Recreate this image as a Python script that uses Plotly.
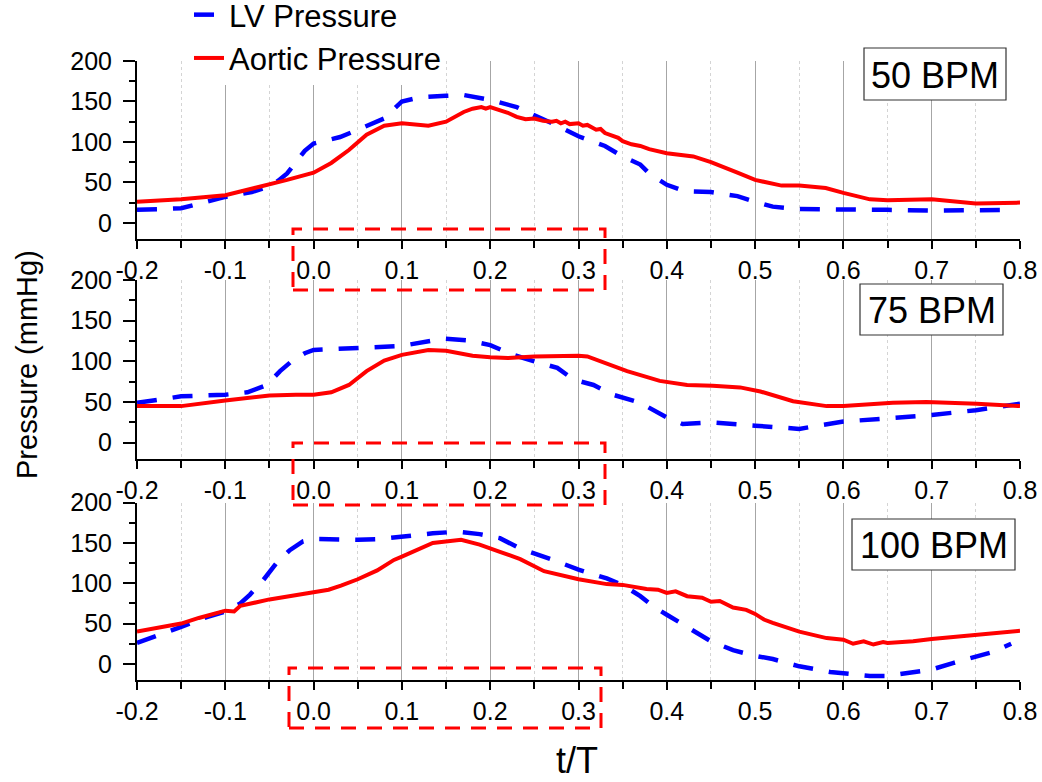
import plotly.graph_objects as go

# ---------------- data ----------------
# 50 BPM
t_lv50 = [-0.2, -0.15, -0.1, -0.07, -0.05, -0.04, -0.03, -0.02, -0.01, 0.0, 0.03, 0.05, 0.08, 0.1,
          0.12, 0.15, 0.17, 0.2, 0.23, 0.27, 0.3, 0.33, 0.35, 0.37, 0.38, 0.4, 0.42, 0.45, 0.48,
          0.5, 0.52, 0.55, 0.6, 0.65, 0.7, 0.75, 0.786]
lv50 = [16, 18, 32, 38, 45, 52, 61, 75, 89, 98, 106, 115, 129, 150,
        155, 157, 158, 152, 143, 123, 107, 95, 82, 72, 61, 47, 39, 38, 33,
        26, 20, 17, 17, 16, 15, 15, 16]
t_ao50 = [-0.2, -0.15, -0.1, -0.05, -0.03, 0.0, 0.02, 0.04, 0.06, 0.08, 0.1, 0.13, 0.15, 0.17,
          0.18, 0.19, 0.195, 0.2, 0.21, 0.22, 0.23, 0.24, 0.25, 0.26, 0.27, 0.275, 0.28, 0.285,
          0.29, 0.3, 0.305, 0.31, 0.32, 0.325, 0.33, 0.34, 0.345, 0.35, 0.36, 0.37, 0.38, 0.4,
          0.43, 0.45, 0.47, 0.48, 0.5, 0.52, 0.53, 0.55, 0.58, 0.6, 0.63, 0.65, 0.7, 0.75, 0.8]
ao50 = [26, 29, 34, 47, 53, 62, 74, 90, 109, 120, 123, 120, 125, 137,
        141, 143, 141, 143, 140, 136, 131, 128, 129, 126, 125, 126, 123, 125,
        122, 123, 120, 121, 115, 116, 111, 107, 105, 101, 97, 95, 91, 86,
        82, 75, 67, 62, 53, 49, 46, 46, 43, 37, 29, 28, 29, 24, 25]

# 75 BPM
t_lv75 = [-0.2, -0.15, -0.1, -0.075, -0.053, -0.038, -0.025, -0.01, 0.0, 0.026, 0.05, 0.1, 0.147,
          0.173, 0.2, 0.226, 0.25, 0.276, 0.29, 0.3, 0.317, 0.339, 0.37, 0.4, 0.418, 0.45, 0.5,
          0.52, 0.55, 0.577, 0.6, 0.65, 0.7, 0.75, 0.8]
lv75 = [49, 57, 59, 62, 71, 88, 100, 110, 114, 115, 117, 119, 128,
        126, 120, 108, 100, 92, 81, 76, 71, 59, 49, 31, 23, 25, 21,
        19, 17, 22, 26, 30, 34, 40, 48]
t_ao75 = [-0.2, -0.15, -0.1, -0.05, -0.02, 0.0, 0.02, 0.04, 0.06, 0.08, 0.1, 0.13, 0.15, 0.18,
          0.2, 0.22, 0.25, 0.28, 0.3, 0.31, 0.336, 0.355, 0.392, 0.423, 0.452, 0.483, 0.506,
          0.543, 0.581, 0.6, 0.656, 0.694, 0.751, 0.8]
ao75 = [45, 45, 52, 58, 59, 59, 62, 71, 88, 101, 108, 114, 113, 107,
        105, 104, 106, 107, 107, 106, 96, 88, 76, 71, 70, 68, 63,
        51, 45, 45, 49, 50, 48, 45]

# 100 BPM
t_lv100 = [-0.2, -0.174, -0.15, -0.121, -0.1, -0.083, -0.072, -0.057, -0.042, -0.027, -0.012, 0.0,
           0.022, 0.05, 0.075, 0.1, 0.135, 0.162, 0.188, 0.211, 0.234, 0.271, 0.3, 0.332, 0.35,
           0.37, 0.385, 0.4, 0.423, 0.45, 0.475, 0.5, 0.52, 0.55, 0.585, 0.6, 0.63, 0.65, 0.679,
           0.7, 0.724, 0.751, 0.77, 0.79]
lv100 = [26, 36, 46, 58, 65, 75, 86, 104, 125, 141, 152, 155,
         154, 154, 155, 158, 162, 164, 161, 156, 143, 129, 117, 106, 98,
         84, 71, 61, 46, 28, 17, 10, 6, -3, -10, -12, -15, -15, -11,
         -7, 1, 9, 15, 25]
t_ao100 = [-0.2, -0.174, -0.15, -0.13, -0.1, -0.09, -0.083, -0.05, -0.027, 0.0, 0.017, 0.031, 0.05,
           0.072, 0.091, 0.1, 0.113, 0.135, 0.167, 0.188, 0.211, 0.234, 0.261, 0.3, 0.332, 0.35,
           0.377, 0.39, 0.4, 0.41, 0.423, 0.44, 0.45, 0.46, 0.475, 0.49, 0.5, 0.51, 0.52, 0.55,
           0.581, 0.6, 0.611, 0.623, 0.634, 0.645, 0.65, 0.679, 0.7, 0.751, 0.8]
ao100 = [40, 45, 50, 57, 66, 65, 72, 80, 84, 88, 92, 97, 105,
         116, 129, 133, 139, 150, 154, 148, 139, 130, 115, 105, 99, 98,
         93, 92, 88, 90, 84, 82, 77, 78, 70, 67, 62, 55, 51, 40,
         32, 30, 25, 28, 24, 27, 26, 28, 31, 36, 41]

panel_labels = ["50 BPM", "75 BPM", "100 BPM"]
series_names = ["LV Pressure", "Aortic Pressure"]
x_tickvals = [-0.2, -0.1, 0.0, 0.1, 0.2, 0.3, 0.4, 0.5, 0.6, 0.7, 0.8]
x_ticktext = ["-0.2", "-0.1", "0.0", "0.1", "0.2", "0.3", "0.4", "0.5", "0.6", "0.7", "0.8"]
y_tickvals = [0, 50, 100, 150, 200]

# ---------------- layout helpers ----------------
W, H = 1042, 782
L, R, T, B = 137, 22, 61, 102
PW, PH = W - L - R, H - T - B


def px_x(p):
    return (p - L) / PW


def px_y(p):
    return (H - B - p) / PH


FONT = "Liberation Sans, Arial, sans-serif"
BLUE = "#0000ff"
RED = "#ff0000"

panels = [
    (t_lv50, lv50, t_ao50, ao50),
    (t_lv75, lv75, t_ao75, ao75),
    (t_lv100, lv100, t_ao100, ao100),
]
# panel pixel extents: (top of y-range, bottom of axis)
panel_px = [(61, 239), (280, 459), (502.7, 680)]

fig = go.Figure()
for i, (tl, lv, ta, ao) in enumerate(panels):
    sfx = "" if i == 0 else str(i + 1)
    fig.add_trace(go.Scatter(x=tl, y=lv, mode="lines", name=series_names[0],
                             line=dict(color=BLUE, width=4.5, dash="20px,16px"),
                             xaxis="x" + sfx, yaxis="y" + sfx, showlegend=(i == 0),
                             legendrank=1))
    fig.add_trace(go.Scatter(x=ta, y=ao, mode="lines", name=series_names[1],
                             line=dict(color=RED, width=4),
                             xaxis="x" + sfx, yaxis="y" + sfx, showlegend=(i == 0),
                             legendrank=2))

layout = dict(
    width=W, height=H,
    margin=dict(l=L, r=R, t=T, b=B, autoexpand=False),
    paper_bgcolor="white", plot_bgcolor="white",
    font=dict(family=FONT, color="black", size=25),
    showlegend=True,
    legend=dict(x=px_x(189), y=px_y(-12), xanchor="left", yanchor="top",
                font=dict(size=31, family=FONT), bgcolor="white",
                borderwidth=0, tracegroupgap=0),
)

for i in range(3):
    sfx = "" if i == 0 else str(i + 1)
    top_px, bot_px = panel_px[i]
    layout["xaxis" + sfx] = dict(
        domain=[0, 1], range=[-0.2, 0.8], anchor="y" + sfx,
        tickmode="array", tickvals=x_tickvals, ticktext=x_ticktext,
        ticks="outside", ticklen=8, tickwidth=2, tickcolor="black",
        showline=True, linecolor="black", linewidth=2,
        showgrid=True, gridcolor="#a6a6a6", gridwidth=1, zeroline=False,
        tickfont=dict(size=25, family=FONT),
        minor=dict(tickmode="linear", tick0=-0.2, dtick=0.05, ticks="outside", ticklen=7,
                   tickwidth=2, tickcolor="black", showgrid=True,
                   gridcolor="#d4d4d4", griddash="dot", gridwidth=1),
    )
    layout["yaxis" + sfx] = dict(
        domain=[px_y(bot_px), px_y(top_px)], range=[-20, 200], anchor="x" + sfx,
        tickmode="array", tickvals=y_tickvals,
        ticks="outside", ticklen=12, tickwidth=2, tickcolor="black",
        ticklabelstandoff=6,
        showline=True, linecolor="black", linewidth=2,
        showgrid=False, zeroline=False,
        tickfont=dict(size=25, family=FONT),
        minor=dict(tickmode="linear", tick0=0, dtick=25, ticks="outside", ticklen=6,
                   tickwidth=2, tickcolor="black", showgrid=False),
    )

fig.update_layout(**layout)

# BPM label boxes (pixel extents)
bpm_boxes = [(864, 48, 1006, 100), (860, 284, 1003, 335), (852, 519, 1015, 570)]
for lab, (x0, y0, x1, y1) in zip(panel_labels, bpm_boxes):
    fig.add_shape(type="rect", xref="paper", yref="paper",
                  x0=px_x(x0), x1=px_x(x1), y0=px_y(y1), y1=px_y(y0),
                  line=dict(color="#333333", width=1.2), fillcolor="white", layer="above")
    fig.add_annotation(text=lab, xref="paper", yref="paper",
                       x=px_x((x0 + x1) / 2), y=px_y((y0 + y1) / 2 + 1),
                       xanchor="center", yanchor="middle", showarrow=False,
                       font=dict(size=36, family=FONT, color="black"))

# red dashed highlight boxes around the 0.0-0.3 tick labels
hl_boxes = [(293, 229, 605, 290), (293, 443, 605, 505), (289, 668, 601, 728)]
for (x0, y0, x1, y1) in hl_boxes:
    fig.add_shape(type="rect", xref="paper", yref="paper",
                  x0=px_x(x0), x1=px_x(x1), y0=px_y(y1), y1=px_y(y0),
                  line=dict(color=RED, width=3, dash="15px,11px"), layer="above")

# axis titles
fig.add_annotation(text="Pressure (mmHg)", xref="paper", yref="paper",
                   x=px_x(27), y=px_y(365), textangle=-90, showarrow=False,
                   xanchor="center", yanchor="middle",
                   font=dict(size=29, family=FONT, color="black"))
fig.add_annotation(text="t/T", xref="paper", yref="paper",
                   x=px_x(577), y=px_y(760), showarrow=False,
                   xanchor="center", yanchor="middle",
                   font=dict(size=36, family=FONT, color="black"))

fig.write_html("out.html", config={"displayModeBar": False},
               post_script="document.body.style.margin='0px';document.body.style.padding='0px';")
